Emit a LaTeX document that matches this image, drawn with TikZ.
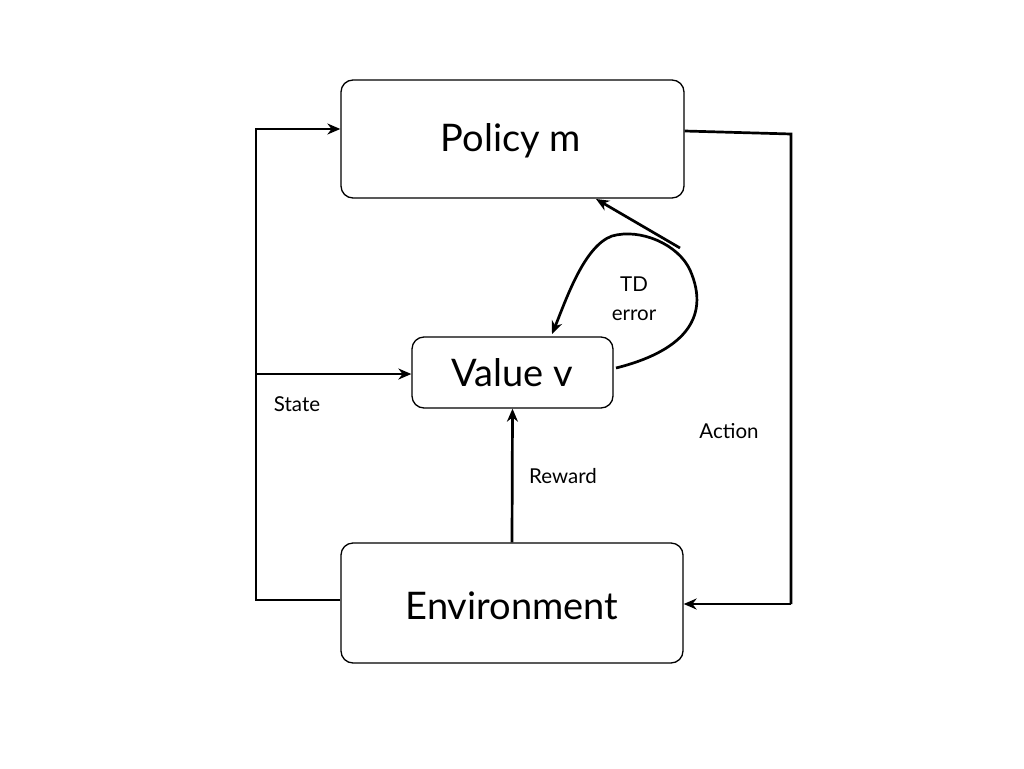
\documentclass[tikz,border=0pt]{standalone}
\usepackage{fontspec}
\setmainfont{Lato}
\usetikzlibrary{arrows.meta}
\begin{document}
\begin{tikzpicture}[x=1pt,y=-1pt,
  box/.style={draw,line width=1.3pt,rounded corners=12pt,minimum width=#1,inner sep=0pt},
  conn/.style={line width=2.7pt,-{Stealth[length=13pt,width=11pt]}},
  plain/.style={line width=2.7pt},
  big/.style={font=\fontsize{38}{44}\selectfont},
  lbl/.style={font=\fontsize{20.5}{29}\selectfont,align=center}]
\useasboundingbox (0,0) rectangle (1024,768);
\node[box=343pt,minimum height=118pt] (pol) at (512.5,139) {};
\node[big] (polt) at (511,141) {Policy m};
\node[box=201pt,minimum height=71pt] (val) at (512.5,372.5) {};
\node[big] (valt) at (512,373) {Value v};
\node[box=342pt,minimum height=120pt] (env) at (512,603) {};
\node[big] (envt) at (512,606) {Environment};
\coordinate (bl) at (256,600);
\coordinate (tl) at (256,129);
\coordinate (ml) at (256,374);
\coordinate (tr) at (791,134);
\coordinate (br) at (791,604);
\draw[conn] (env.west |- bl) -- (bl) -- (tl) -- (pol.west |- tl);
\draw[conn] (ml) -- (val.west |- ml);
\draw[plain] (pol.east |- 0,131) -- (tr) -- (br);
\draw[conn] (br) -- (env.east |- br);
\draw[conn] (env.north) -- (val.south);
\coordinate (split) at (680,248);
\draw[conn] (split) -- (596,199);
\draw[conn] (616,368) .. controls (680,352) and (712,320) .. (690,270) .. controls (678,244) and (640,228) .. (612,236) .. controls (584,246) and (566,300) .. (552,334);
\node[lbl] (state) at (297,404) {State};
\node[lbl] (action) at (729,431) {Action};
\node[lbl] (reward) at (563,476) {Reward};
\node[lbl] (td) at (634,299) {TD\\error};
\end{tikzpicture}
\end{document}
